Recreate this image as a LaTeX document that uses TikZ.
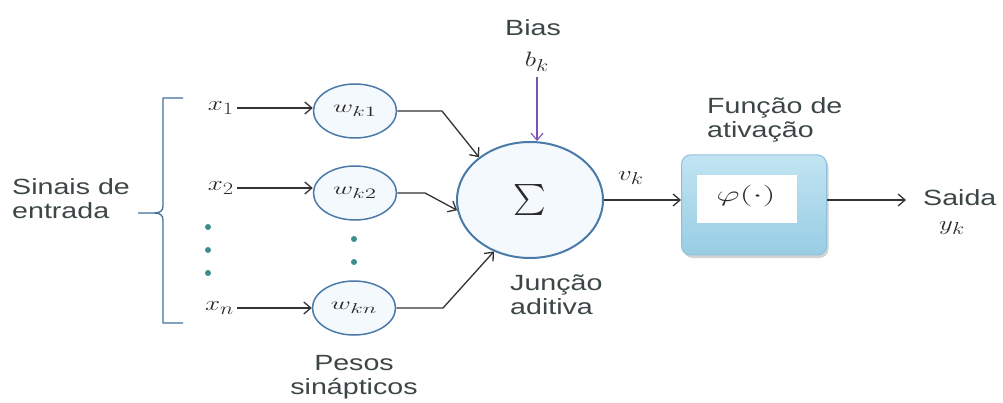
\documentclass[tikz,border=0pt]{standalone}
\usepackage{fontspec}
\setmainfont{Liberation Sans}[FakeStretch=1.3]
\usetikzlibrary{arrows.meta,shapes.geometric,shadows}
\DeclareMathSizes{18}{18}{15}{11}
\DeclareMathSizes{20}{20}{16}{12}
\definecolor{txtc}{HTML}{3C4646}
\definecolor{mathc}{HTML}{2A2A2A}
\definecolor{arrc}{HTML}{333333}
\definecolor{ringc}{HTML}{4A7AA8}
\definecolor{ringfill}{HTML}{F4F9FD}
\definecolor{bracec}{HTML}{3F6F9C}
\definecolor{dotc}{HTML}{3E8C8C}
\definecolor{biasc}{HTML}{7B4FB5}
\definecolor{boxtop}{HTML}{C2E4F2}
\definecolor{boxbot}{HTML}{98CDE4}
\definecolor{boxedge}{HTML}{8EC1D9}
\newcommand\widen[1]{\scalebox{1.3}[1]{#1}}
\newcommand\wlabel[1]{\fontsize{18}{18}\selectfont\scalebox{1.6}[1]{$#1$}}
\tikzset{
  lbl/.style={text=txtc, font=\fontsize{22}{24}\selectfont, inner sep=0pt, align=left},
  mlbl/.style={text=mathc, inner sep=0pt},
  arr/.style={draw=arrc, line width=1.3pt, -{Straight Barb[length=7pt,width=12pt]}},
  weight/.style={ellipse, draw=ringc, line width=1.5pt, fill=ringfill,
    minimum width=83pt, minimum height=54pt, inner sep=0pt, text=mathc},
  dotmark/.style={circle, fill=dotc, minimum size=6pt, inner sep=0pt},
}
\begin{document}
\begin{tikzpicture}[x=1pt,y=-1pt]
\useasboundingbox (0,0) rectangle (1003,403);

% input signals label and brace
\node[lbl, anchor=west] (inlbl) at (12,199) {Sinais de\\entrada};
\draw[bracec, line width=1.3pt, line join=round]
  (183,98) -- (163,98) -- (163,206)
  .. controls (163,211) and (160,213) .. (154,213) -- (138,213)
  (154,213) .. controls (160,213) and (163,215) .. (163,220)
  -- (163,323) -- (183,323);

% inputs
\node[mlbl, anchor=east] (x1) at (234,108) {\fontsize{20}{20}\selectfont\widen{$x_1$}};
\node[mlbl, anchor=east] (x2) at (234,188) {\fontsize{20}{20}\selectfont\widen{$x_2$}};
\node[mlbl, anchor=east] (xn) at (234,308) {\fontsize{20}{20}\selectfont\widen{$x_n$}};
\node[dotmark] (d1) at (208,227) {};
\node[dotmark] (d2) at (208,250) {};
\node[dotmark] (d3) at (208,273) {};

% synaptic weights
\node[weight] (w1) at (355,111) {\wlabel{w_{k1}}};
\node[weight] (w2) at (355,193) {\wlabel{w_{k2}}};
\node[weight] (wn) at (354,308) {\wlabel{w_{kn}}};
\node[dotmark] (d4) at (354,239) {};
\node[dotmark] (d5) at (354,262) {};
\node[lbl, align=center] (pesos) at (354,377) {Pesos\\sinápticos};

\draw[arr, shorten <=3pt] (x1.east) -- (x1.east -| w1.west);
\draw[arr, shorten <=3pt] (x2.east) -- (x2.east -| w2.west);
\draw[arr, shorten <=3pt] (xn.east) -- (xn.east -| wn.west);

% summing junction
\node[ellipse, draw=ringc, line width=2pt, fill=ringfill, minimum width=146pt,
  minimum height=116pt, inner sep=0pt, text=mathc] (sum) at (530,200)
  {\scalebox{3.1}{$\textstyle\sum$}};
\node[lbl, anchor=west] (junc) at (510,295) {Junção\\aditiva};

\draw[arr] (w1.east) -- (442,111) -- (sum.140);
\draw[arr] (w2.east) -- (425,193) -- (sum.188);
\draw[arr] (wn.east) -- (443,308) -- (sum.235);

% bias
\node[lbl] (bias) at (533,28) {Bias};
\node[mlbl] (bk) at (537,62) {\fontsize{20}{20}\selectfont\widen{$b_k$}};
\draw[arr, draw=biasc, line width=1.1pt] (537,77) -- (sum.north -| bk);

% activation function
\node[lbl, anchor=west] (funlbl) at (707,120) {Função de\\ativação};
\node[draw=boxedge, line width=1pt, rounded corners=9pt, top color=boxtop,
  bottom color=boxbot, minimum width=145pt, minimum height=100pt,
  drop shadow={shadow xshift=2pt, shadow yshift=-3pt, opacity=0.35}] (box) at (754,205) {};
\node[fill=white, minimum width=100pt, minimum height=48pt, inner sep=0pt] (inner) at (747,199) {};
\node[mlbl] (phi) at (746,196) {\fontsize{20}{20}\selectfont\scalebox{1.75}[1.05]{$\varphi(\cdot)$}};

\node[mlbl] (vk) at (631,178) {\fontsize{20}{20}\selectfont\widen{$v_k$}};
\draw[arr] (sum.east) -- (sum.east -| box.west);

% output
\coordinate (outend) at (906,200);
\draw[arr] (sum.east -| box.east) -- (outend);
\node[lbl, anchor=west] (saida) at (923,198) {Saida};
\node[mlbl] (yk) at (952,228) {\fontsize{20}{20}\selectfont\widen{$y_k$}};
\end{tikzpicture}
\end{document}
